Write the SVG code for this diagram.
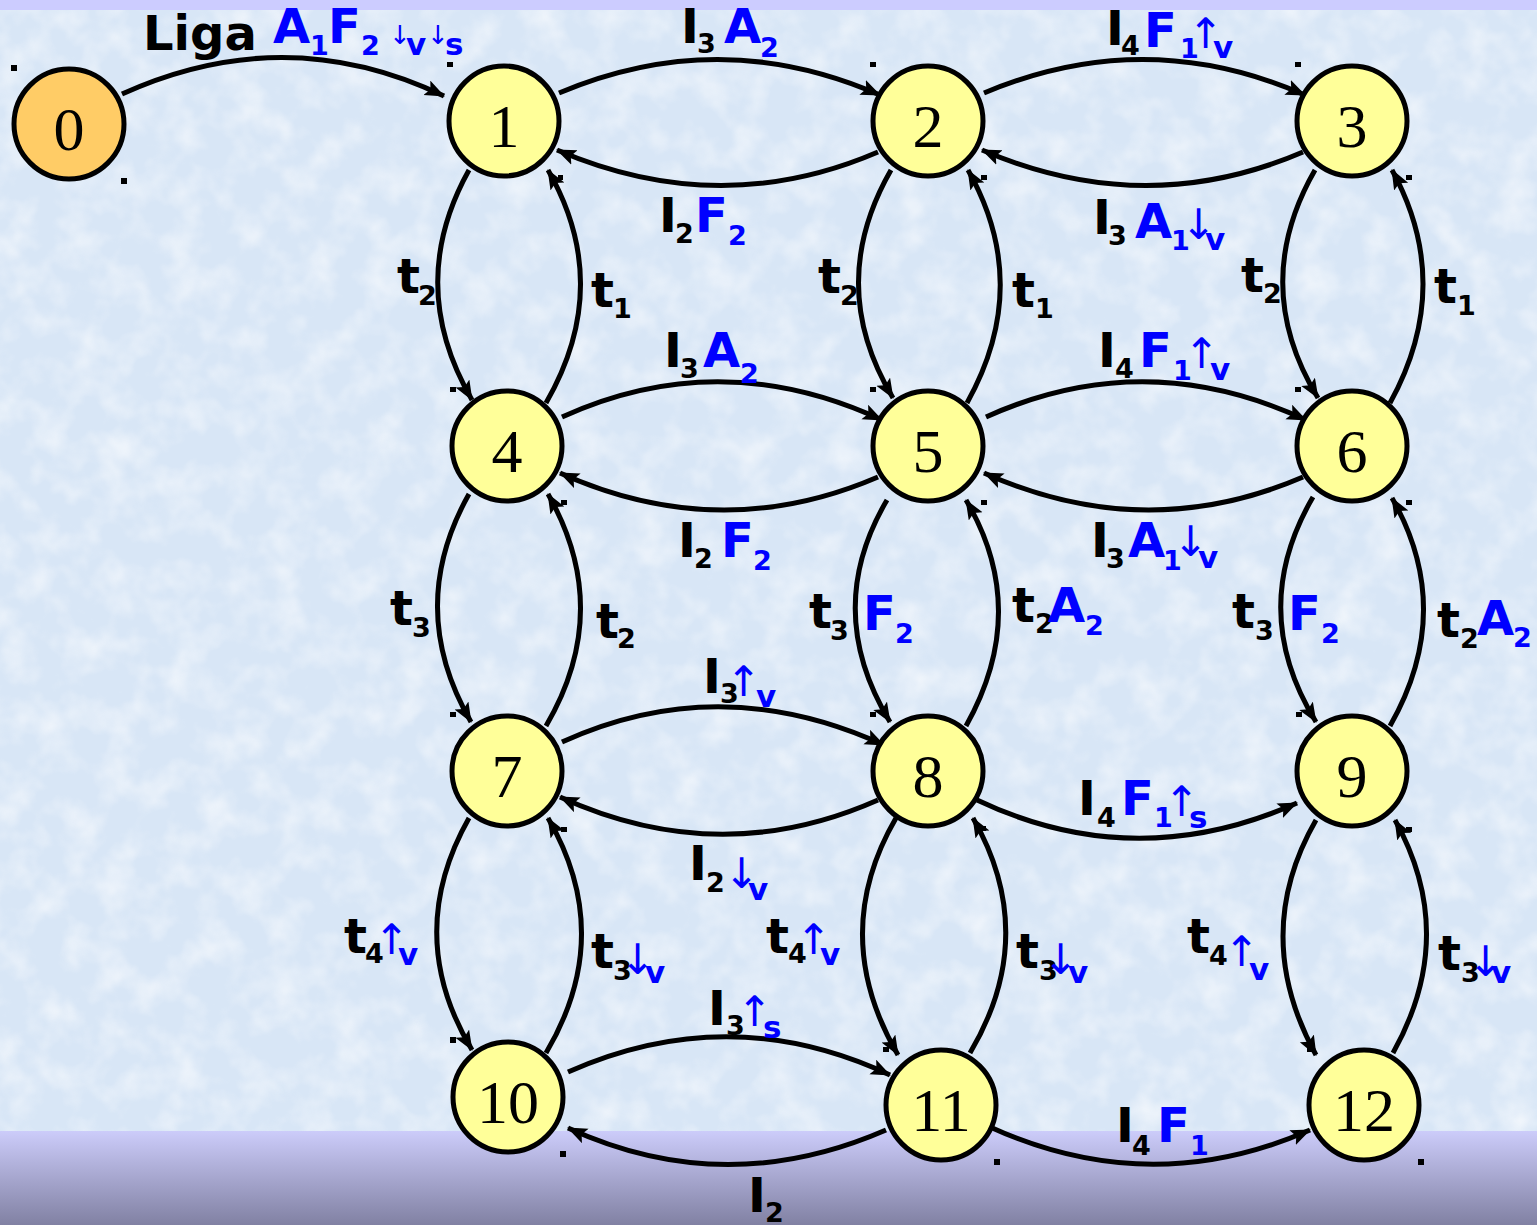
<svg xmlns="http://www.w3.org/2000/svg" width="1537" height="1225" viewBox="0 0 1537 1225">
<defs>
<linearGradient id="band" x1="0" y1="0" x2="0" y2="1">
<stop offset="0" stop-color="#ccccfa"/>
<stop offset="1" stop-color="#8181a3"/>
</linearGradient>
<filter id="tex" x="0" y="0" width="100%" height="100%">
<feTurbulence type="fractalNoise" baseFrequency="0.03" numOctaves="3" seed="7"/>
<feColorMatrix type="matrix" values="0 0 0 0 1  0 0 0 0 1  0 0 0 0 1  1.6 0 0 0 -0.65"/>
</filter>
<marker id="ah" markerUnits="userSpaceOnUse" markerWidth="22" markerHeight="18" refX="19" refY="8" orient="auto">
<path d="M0,0 L20,8 L0,16 L4,8 z" fill="#000"/>
</marker>
<style>
.n circle{fill:#ffff99;stroke:#000;stroke-width:5}
.n text{font-family:"Liberation Serif","Times New Roman",serif;font-size:62px;text-anchor:middle;fill:#000}
#n0 circle{fill:#ffcc66}
.e path{fill:none;stroke:#000;stroke-width:5;marker-end:url(#ah)}
.lb{font-family:"DejaVu Sans","Verdana",sans-serif;font-weight:bold;fill:#000}
.m{font-size:48px}
.s{font-size:27px}
.v{font-size:31px;fill:#0000ff}
.b{fill:#0000ff}
.a{font-size:42px;font-weight:normal;fill:#0000ff}
.a2{font-size:26px;font-weight:normal;fill:#0000ff}
.d{fill:#000}
</style>
</defs>
<rect x="0" y="0" width="1537" height="1225" fill="#d8e6f6"/>
<rect x="0" y="10" width="1537" height="1121" filter="url(#tex)" opacity="0.7"/>
<rect x="0" y="0" width="1537" height="10" fill="#ccccff"/>
<rect x="0" y="1131" width="1537" height="94" fill="url(#band)"/>

<g id="connectors" class="e">
<path d="M122,94 Q285,20 444,96"/>
<path d="M559,93 Q720,25 880,95"/>
<path d="M878,152 Q720,220 557,150"/>
<path d="M984,93 Q1145,25 1305,95"/>
<path d="M1303,152 Q1145,220 982,150"/>
<path d="M562,417 Q720,345 882,420"/>
<path d="M878,477 Q720,545 560,473"/>
<path d="M986,417 Q1145,345 1306,420"/>
<path d="M1303,477 Q1145,545 984,473"/>
<path d="M562,742 Q720,670 884,745"/>
<path d="M878,800 Q720,870 560,797"/>
<path d="M977,800 Q1135,875 1297,803"/>
<path d="M568,1072 Q730,1000 890,1075"/>
<path d="M886,1130 Q725,1200 568,1128"/>
<path d="M990,1127 Q1150,1200 1310,1130"/>
<path d="M469,170 Q405,285 472,400"/>
<path d="M546,403 Q614,285 548,170"/>
<path d="M891,170 Q825,285 893,398"/>
<path d="M967,403 Q1033,285 968,170"/>
<path d="M1315,170 Q1249,285 1318,398"/>
<path d="M1390,403 Q1455,285 1392,170"/>
<path d="M469,494 Q405,608 471,722"/>
<path d="M546,726 Q614,610 548,494"/>
<path d="M887,500 Q822,610 890,722"/>
<path d="M966,726 Q1031,610 966,500"/>
<path d="M1313,497 Q1247,610 1316,722"/>
<path d="M1390,726 Q1456,610 1392,498"/>
<path d="M469,818 Q403,935 472,1050"/>
<path d="M546,1053 Q616,935 548,818"/>
<path d="M896,818 Q828,935 898,1055"/>
<path d="M970,1053 Q1040,935 973,818"/>
<path d="M1316,820 Q1250,935 1316,1055"/>
<path d="M1393,1053 Q1459,935 1395,820"/>
</g>

<g id="n0" class="n"><circle cx="69" cy="124" r="55"/><text x="69" y="150">0</text></g>
<g id="n1" class="n"><circle cx="504" cy="121" r="55"/><text x="504" y="147">1</text></g>
<g id="n2" class="n"><circle cx="928" cy="121" r="55"/><text x="928" y="147">2</text></g>
<g id="n3" class="n"><circle cx="1352" cy="121" r="55"/><text x="1352" y="147">3</text></g>
<g id="n4" class="n"><circle cx="507" cy="446" r="55"/><text x="507" y="472">4</text></g>
<g id="n5" class="n"><circle cx="928" cy="446" r="55"/><text x="928" y="472">5</text></g>
<g id="n6" class="n"><circle cx="1352" cy="446" r="55"/><text x="1352" y="472">6</text></g>
<g id="n7" class="n"><circle cx="507" cy="771" r="55"/><text x="507" y="797">7</text></g>
<g id="n8" class="n"><circle cx="928" cy="771" r="55"/><text x="928" y="797">8</text></g>
<g id="n9" class="n"><circle cx="1352" cy="771" r="55"/><text x="1352" y="797">9</text></g>
<g id="n10" class="n"><circle cx="508" cy="1097" r="55"/><text x="508" y="1123">10</text></g>
<g id="n11" class="n"><circle cx="941" cy="1105" r="55"/><text x="941" y="1131">11</text></g>
<g id="n12" class="n"><circle cx="1364" cy="1105" r="55"/><text x="1364" y="1131">12</text></g>

<g id="labels">
<text class="lb"><tspan class="m" x="143" y="50">Liga</tspan><tspan class="m b" x="273" y="43">A</tspan><tspan class="s b" x="310" y="55">1</tspan><tspan class="m b" x="328" y="43">F</tspan><tspan class="s b" x="361" y="55">2</tspan><tspan class="a2" x="389" y="44">↓</tspan><tspan class="v" x="406" y="55">v</tspan><tspan class="a2" x="427" y="44">↓</tspan><tspan class="v" x="445" y="55">s</tspan></text>

<text class="lb"><tspan class="m" x="681" y="43">I</tspan><tspan class="s" x="697" y="53">3</tspan><tspan class="m b" x="724" y="43">A</tspan><tspan class="s b" x="760" y="57">2</tspan></text>
<text class="lb"><tspan class="m" x="659" y="232">I</tspan><tspan class="s" x="675" y="243">2</tspan><tspan class="m b" x="695" y="232">F</tspan><tspan class="s b" x="728" y="245">2</tspan></text>
<text class="lb"><tspan class="m" x="1106" y="45">I</tspan><tspan class="s" x="1121" y="55">4</tspan><tspan class="m b" x="1144" y="47">F</tspan><tspan class="s b" x="1180" y="58">1</tspan><tspan class="a" x="1188" y="48">↑</tspan><tspan class="v" x="1213" y="58">v</tspan></text>
<text class="lb"><tspan class="m" x="1093" y="234">I</tspan><tspan class="s" x="1108" y="245">3</tspan><tspan class="m b" x="1135" y="238">A</tspan><tspan class="s b" x="1171" y="250">1</tspan><tspan class="a" x="1181" y="239">↓</tspan><tspan class="v" x="1205" y="250">v</tspan></text>

<text class="lb"><tspan class="m" x="397" y="293">t</tspan><tspan class="s" x="418" y="305">2</tspan></text>
<text class="lb"><tspan class="m" x="591" y="307">t</tspan><tspan class="s" x="613" y="318">1</tspan></text>
<text class="lb"><tspan class="m" x="818" y="293">t</tspan><tspan class="s" x="840" y="305">2</tspan></text>
<text class="lb"><tspan class="m" x="1012" y="307">t</tspan><tspan class="s" x="1035" y="318">1</tspan></text>
<text class="lb"><tspan class="m" x="1241" y="292">t</tspan><tspan class="s" x="1263" y="303">2</tspan></text>
<text class="lb"><tspan class="m" x="1434" y="303">t</tspan><tspan class="s" x="1457" y="315">1</tspan></text>

<text class="lb"><tspan class="m" x="664" y="367">I</tspan><tspan class="s" x="680" y="378">3</tspan><tspan class="m b" x="703" y="367">A</tspan><tspan class="s b" x="740" y="383">2</tspan></text>
<text class="lb"><tspan class="m" x="678" y="557">I</tspan><tspan class="s" x="694" y="568">2</tspan><tspan class="m b" x="721" y="557">F</tspan><tspan class="s b" x="753" y="570">2</tspan></text>
<text class="lb"><tspan class="m" x="1098" y="367">I</tspan><tspan class="s" x="1115" y="378">4</tspan><tspan class="m b" x="1139" y="367">F</tspan><tspan class="s b" x="1173" y="380">1</tspan><tspan class="a" x="1184" y="368">↑</tspan><tspan class="v" x="1210" y="380">v</tspan></text>
<text class="lb"><tspan class="m" x="1091" y="557">I</tspan><tspan class="s" x="1106" y="568">3</tspan><tspan class="m b" x="1128" y="557">A</tspan><tspan class="s b" x="1163" y="570">1</tspan><tspan class="a" x="1173" y="556">↓</tspan><tspan class="v" x="1198" y="568">v</tspan></text>

<text class="lb"><tspan class="m" x="390" y="625">t</tspan><tspan class="s" x="412" y="637">3</tspan></text>
<text class="lb"><tspan class="m" x="596" y="638">t</tspan><tspan class="s" x="617" y="648">2</tspan></text>
<text class="lb"><tspan class="m" x="809" y="628">t</tspan><tspan class="s" x="830" y="640">3</tspan><tspan class="m b" x="863" y="630">F</tspan><tspan class="s b" x="895" y="643">2</tspan></text>
<text class="lb"><tspan class="m" x="1012" y="622">t</tspan><tspan class="s" x="1035" y="633">2</tspan><tspan class="m b" x="1048" y="622">A</tspan><tspan class="s b" x="1085" y="635">2</tspan></text>
<text class="lb"><tspan class="m" x="1232" y="628">t</tspan><tspan class="s" x="1255" y="640">3</tspan><tspan class="m b" x="1288" y="630">F</tspan><tspan class="s b" x="1321" y="643">2</tspan></text>
<text class="lb"><tspan class="m" x="1437" y="637">t</tspan><tspan class="s" x="1460" y="648">2</tspan><tspan class="m b" x="1477" y="635">A</tspan><tspan class="s b" x="1513" y="647">2</tspan></text>

<text class="lb"><tspan class="m" x="703" y="693">I</tspan><tspan class="s" x="720" y="703">3</tspan><tspan class="a" x="726" y="696">↑</tspan><tspan class="v" x="756" y="707">v</tspan></text>
<text class="lb"><tspan class="m" x="689" y="880">I</tspan><tspan class="s" x="706" y="892">2</tspan><tspan class="a" x="724" y="888">↓</tspan><tspan class="v" x="748" y="900">v</tspan></text>
<text class="lb"><tspan class="m" x="1078" y="815">I</tspan><tspan class="s" x="1097" y="827">4</tspan><tspan class="m b" x="1121" y="815">F</tspan><tspan class="s b" x="1154" y="827">1</tspan><tspan class="a" x="1164" y="816">↑</tspan><tspan class="v" x="1189" y="828">s</tspan></text>

<text class="lb"><tspan class="m" x="344" y="953">t</tspan><tspan class="s" x="365" y="963">4</tspan><tspan class="a" x="374" y="954">↑</tspan><tspan class="v" x="398" y="965">v</tspan></text>
<text class="lb"><tspan class="m" x="591" y="968">t</tspan><tspan class="s" x="613" y="980">3</tspan><tspan class="a" x="620" y="974">↓</tspan><tspan class="v" x="645" y="983">v</tspan></text>
<text class="lb"><tspan class="m" x="766" y="953">t</tspan><tspan class="s" x="788" y="963">4</tspan><tspan class="a" x="796" y="954">↑</tspan><tspan class="v" x="820" y="965">v</tspan></text>
<text class="lb"><tspan class="m" x="1016" y="968">t</tspan><tspan class="s" x="1039" y="980">3</tspan><tspan class="a" x="1043" y="974">↓</tspan><tspan class="v" x="1068" y="983">v</tspan></text>
<text class="lb"><tspan class="m" x="1187" y="953">t</tspan><tspan class="s" x="1209" y="965">4</tspan><tspan class="a" x="1224" y="966">↑</tspan><tspan class="v" x="1249" y="980">v</tspan></text>
<text class="lb"><tspan class="m" x="1438" y="970">t</tspan><tspan class="s" x="1461" y="982">3</tspan><tspan class="a" x="1468" y="976">↓</tspan><tspan class="v" x="1491" y="983">v</tspan></text>

<text class="lb"><tspan class="m" x="708" y="1025">I</tspan><tspan class="s" x="726" y="1035">3</tspan><tspan class="a" x="737" y="1026">↑</tspan><tspan class="v" x="763" y="1038">s</tspan></text>
<text class="lb"><tspan class="m" x="748" y="1212">I</tspan><tspan class="s" x="765" y="1222">2</tspan></text>
<text class="lb"><tspan class="m" x="1116" y="1142">I</tspan><tspan class="s" x="1132" y="1155">4</tspan><tspan class="m b" x="1157" y="1142">F</tspan><tspan class="s b" x="1190" y="1155">1</tspan></text>
</g>

<g id="marks" class="d">
<rect x="11" y="65" width="6" height="6"/><rect x="121" y="178" width="6" height="6"/>
<rect x="447" y="62" width="6" height="5"/><rect x="870" y="62" width="6" height="5"/><rect x="1295" y="62" width="6" height="5"/>
<rect x="558" y="175" width="5" height="5"/><rect x="981" y="175" width="6" height="5"/><rect x="1406" y="175" width="6" height="5"/>
<rect x="450" y="387" width="6" height="5"/><rect x="870" y="387" width="6" height="5"/><rect x="1295" y="387" width="6" height="5"/>
<rect x="561" y="500" width="6" height="5"/><rect x="981" y="500" width="6" height="5"/><rect x="1406" y="500" width="6" height="5"/>
<rect x="450" y="712" width="6" height="5"/><rect x="870" y="712" width="6" height="5"/><rect x="1296" y="712" width="6" height="5"/>
<rect x="561" y="827" width="6" height="5"/><rect x="980" y="826" width="6" height="5"/><rect x="1406" y="827" width="6" height="5"/>
<rect x="450" y="1037" width="6" height="6"/><rect x="560" y="1151" width="6" height="6"/>
<rect x="883" y="1047" width="6" height="5"/><rect x="994" y="1159" width="6" height="6"/>
<rect x="1307" y="1047" width="6" height="5"/><rect x="1418" y="1159" width="6" height="6"/>
</g>
</svg>
